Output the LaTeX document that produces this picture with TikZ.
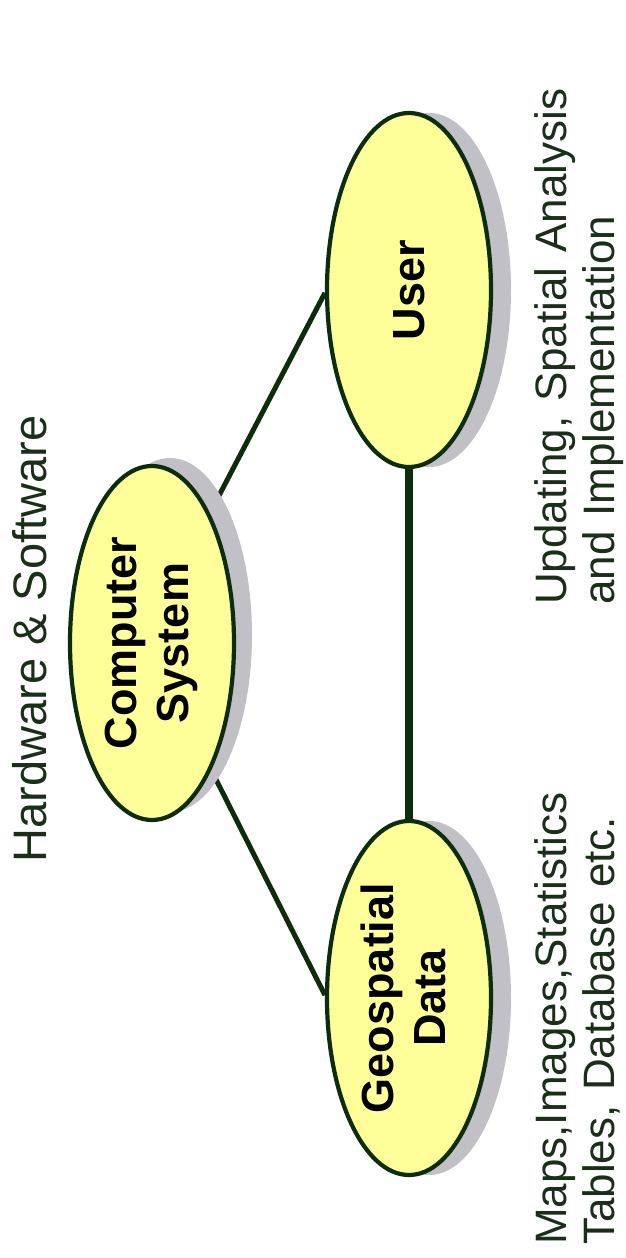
\documentclass[tikz,border=0pt]{standalone}
\usepackage{fontspec}
\setmainfont{Liberation Sans}
\usetikzlibrary{shapes.geometric,shadows}
\pgfdeclarelayer{bg}
\pgfsetlayers{bg,main}
\definecolor{ellfill}{RGB}{255,255,153}
\definecolor{edgegreen}{RGB}{12,44,12}
\definecolor{shadowgray}{RGB}{192,192,198}
\definecolor{notecol}{RGB}{26,46,26}
\begin{document}
\begin{tikzpicture}[x=1pt,y=1pt,
  entity/.style={ellipse, draw=edgegreen, line width=4.2pt, fill=ellfill,
    minimum width=164pt, minimum height=354pt, inner sep=0pt,
    font=\fontsize{45}{52}\selectfont\bfseries},
  shadowat/.style 2 args={drop shadow={shadow xshift=#1pt, shadow yshift=#2pt,
    fill=shadowgray, draw=none, opacity=1}},
  link/.style={draw=edgegreen, line width=5pt},
  trunk/.style={draw=edgegreen, line width=7.5pt},
  note/.style={text=notecol, inner sep=0pt, rotate=90},
  notepara/.style={note, anchor=north west, align=left,
    font=\fontsize{44}{48}\selectfont}]

% page area
\useasboundingbox (0,0) rectangle (625,-1258);

% the three components
\node[entity, shadowat={18}{8}] (cs) at (152,-643)
  {\rotatebox{90}{\begin{tabular}{@{}c@{}}Computer\\System\end{tabular}}};
\node[entity, shadowat={20}{0}] (user) at (409,-290)
  {\rotatebox{90}{User}};
\node[entity, shadowat={20}{0}] (geo) at (409,-998)
  {\rotatebox{90}{\begin{tabular}{@{}c@{}}Geospatial\\Data\end{tabular}}};

% captions
\node[note, anchor=base, font=\fontsize{47}{52}\selectfont] (hw) at (46,-639)
  {Hardware \& Software};
\node[notepara, text width=460pt] (dataex) at (534,-1245)
  {Maps,Images,Statistics\\Tables, Database etc.};
\node[notepara, text width=540pt] (usex) at (534,-605)
  {\makebox[540pt][s]{Updating, Spatial Analysis}\\and Implementation};

% connectors sit behind the shadows
\begin{pgfonlayer}{bg}
  \fill[white] (0,0) rectangle (625,-1258);
  \draw[link] (cs.66) -- (user.182);
  \draw[link] (cs.-65) -- (geo.178);
  \draw[trunk] (user.south) -- (geo.north);
\end{pgfonlayer}
\end{tikzpicture}
\end{document}
